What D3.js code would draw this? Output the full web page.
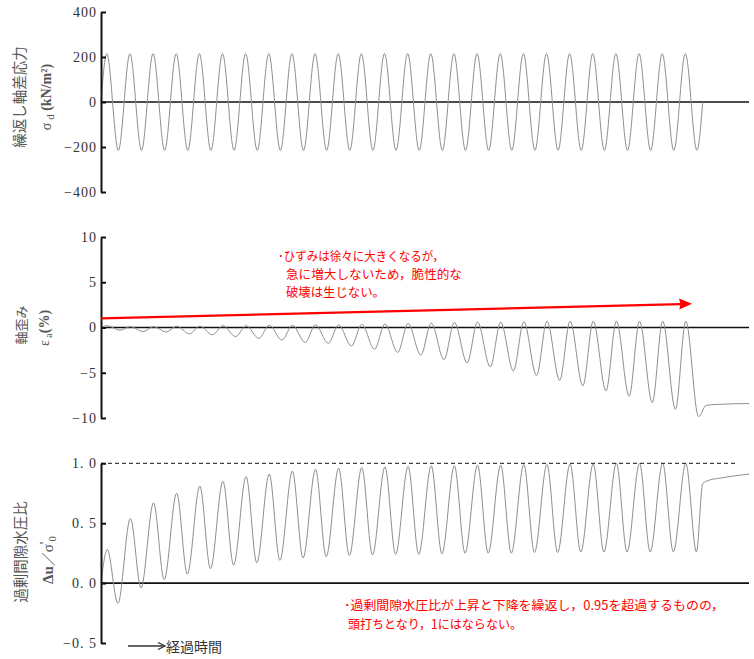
<!DOCTYPE html>
<html><head><meta charset="utf-8">
<script src="https://cdn.jsdelivr.net/npm/d3@7"></script>
<style>body{margin:0;background:#fff}svg{display:block}</style>
</head><body><svg id="c" width="754" height="659"></svg>
<script>
// ---------- data ----------
const cycleIndex = [0,1,2,3,4,5,6,7,8,9,10,11,12,13,14,15,16,17,18,19,20,21,22,23,24,25];
// repeated deviator stress σd (kN/m²): per-cycle peak / trough
const sigmaPeaks   = [215,215,215,215,215,215,215,215,215,215,215,215,215,215,215,215,215,215,215,215,215,215,215,215,215,215];
const sigmaTroughs = [-215,-215,-215,-215,-215,-215,-215,-215,-215,-215,-215,-215,-215,-215,-215,-215,-215,-215,-215,-215,-215,-215,-215,-215,-215,-215];
const sigmaStart = [0, 0];
const sigmaEnd = [26, 0];
// axial strain εa (%)
const strainPeaks   = [0.2,0.1,0.1,0.15,0.15,0.2,0.2,0.25,0.25,0.3,0.3,0.35,0.4,0.45,0.5,0.55,0.6,0.6,0.65,0.7,0.7,0.7,0.7,0.7,0.7,0.7];
const strainTroughs = [-0.3,-0.45,-0.5,-0.7,-0.8,-1.0,-1.2,-1.4,-1.65,-1.75,-2.05,-2.4,-2.75,-3.05,-3.55,-3.9,-4.35,-4.8,-5.3,-5.85,-6.45,-7.0,-7.6,-8.3,-9.05,-9.85];
const strainTailT = [26.15, 26.6, 28];
const strainTailV = [-8.6, -8.5, -8.4];
// excess pore water pressure ratio Δu/σ'0
const ruPeaks   = [0.28,0.54,0.67,0.75,0.81,0.85,0.89,0.91,0.935,0.95,0.96,0.965,0.97,0.975,0.98,0.98,0.985,0.985,0.99,0.99,0.995,0.995,1.0,1.0,1.0,1.0];
const ruTroughs = [-0.17,-0.04,0.03,0.075,0.12,0.15,0.17,0.19,0.21,0.22,0.23,0.235,0.24,0.24,0.245,0.25,0.25,0.25,0.255,0.255,0.26,0.26,0.26,0.26,0.26,0.26];
const ruTailT = [26.0, 26.3, 26.7, 28];
const ruTailV = [0.83, 0.86, 0.875, 0.91];
// phase of extremes within each cycle
const sigmaPhase = [0.25, 0.75];
const strainPhase = [0.27, 0.82];
const ruPhase = [0.27, 0.73];
// axes
const timeDomain = [0, 28];
const sigmaTicks = [-400,-200,0,200,400];
const strainTicks = [-10,-5,0,5,10];
const ruTicks = [-0.5,0,0.5,1.0];
const ruTickLabels = ["−0. 5","0. 0","0. 5","1. 0"];
// annotation arrow (in strain-panel data units)
const arrowFrom = [0, 1.0];
const arrowTo = [25.54, 2.62];
const noteStrain = ["･ひずみは徐々に大きくなるが，","急に増大しないため，脆性的な","破壊は生じない。"];
const noteRu = ["･過剰間隙水圧比が上昇と下降を繰返し，0.95を超過するものの，","頭打ちとなり，1にはならない。"];

// ---------- drawing ----------
const svg = d3.select("#c");
const x = d3.scaleLinear().domain(timeDomain).range([101, 749]);
const ySig = d3.scaleLinear().domain([-400,400]).range([192,12]);
const yStr = d3.scaleLinear().domain([-10,10]).range([418,237]);
const yRu = d3.scaleLinear().domain([-0.5,1.0]).range([643,463.3]);

function series(start, peaks, troughs, phase, tailT, tailV){
  const p = [start];
  cycleIndex.forEach(i => { p.push([i+phase[0], peaks[i]]); p.push([i+phase[1], troughs[i]]); });
  tailT.forEach((t,k) => p.push([t, tailV[k]]));
  return p;
}
const serif = "'Liberation Serif','DejaVu Serif',serif";
const jp = "'Noto Sans CJK JP','Noto Sans',sans-serif";

function panel(y, ticks, labels, pts){
  // zero line
  svg.append("line").attr("x1", x(0)).attr("x2", x(28)).attr("y1", y(0)).attr("y2", y(0))
     .attr("stroke","#111").attr("stroke-width",1.6);
  // data curve
  const line = d3.line().x(d=>x(d[0])).y(d=>y(d[1])).curve(d3.curveMonotoneX);
  svg.append("path").attr("d", line(pts)).attr("fill","none").attr("stroke","#8f8f8f").attr("stroke-width",1);
  // axis line + inward ticks
  const ga = svg.append("g").attr("transform",`translate(${x(0)},0)`)
    .call(d3.axisRight(y).tickValues(ticks).tickSize(5).tickSizeOuter(0).tickFormat(""));
  ga.select(".domain").attr("stroke","#111").attr("stroke-width",2);
  ga.selectAll(".tick line").attr("stroke","#111").attr("stroke-width",2);
  // labels
  const gl = svg.append("g").attr("transform",`translate(${x(0)-4},0)`)
    .call(d3.axisLeft(y).tickValues(ticks).tickSize(0).tickPadding(0)
      .tickFormat((d,i)=> labels ? labels[i] : (d<0 ? "−"+Math.abs(d) : String(d))));
  gl.select(".domain").remove();
  gl.selectAll("text").attr("font-family",serif).attr("font-size",14).attr("letter-spacing","1px").attr("fill","#333");
}

panel(ySig, sigmaTicks, null, series(sigmaStart, sigmaPeaks, sigmaTroughs, sigmaPhase, [sigmaEnd[0]], [sigmaEnd[1]]));
panel(yStr, strainTicks, null, series([0,0], strainPeaks, strainTroughs, strainPhase, strainTailT, strainTailV));
panel(yRu, ruTicks, ruTickLabels, series([0,0], ruPeaks, ruTroughs, ruPhase, ruTailT, ruTailV));

// dashed line at 1.0
svg.append("line").attr("x1", x(0)).attr("x2", 738).attr("y1", yRu(1)).attr("y2", yRu(1))
  .attr("stroke","#111").attr("stroke-width",1).attr("stroke-dasharray","4,3");

// red arrow
{
  const x1 = x(arrowFrom[0]), y1 = yStr(arrowFrom[1]), x2 = x(arrowTo[0]), y2 = yStr(arrowTo[1]);
  const a = Math.atan2(y2-y1, x2-x1), L = 13, W = 5.5;
  const bx = x2 - L*Math.cos(a), by = y2 - L*Math.sin(a);
  svg.append("line").attr("x1",x1).attr("y1",y1).attr("x2",bx+2*Math.cos(a)).attr("y2",by+2*Math.sin(a))
    .attr("stroke","#ff0000").attr("stroke-width",2.2);
  svg.append("path").attr("d",`M${x2},${y2}L${bx - W*Math.sin(a)},${by + W*Math.cos(a)}L${bx+1.5*Math.cos(a)},${by+1.5*Math.sin(a)}L${bx + W*Math.sin(a)},${by - W*Math.cos(a)}Z`)
    .attr("fill","#ff0000");
}

// red notes
function note(lines, xs, ys, lens){
  lines.forEach((s,i)=>{
    svg.append("text").attr("x",xs[i]).attr("y",ys[i]).attr("font-family",jp).attr("font-size",12.5)
      .attr("fill","#ff0000").attr("textLength",lens[i]).attr("lengthAdjust","spacingAndGlyphs").text(s);
  });
}
note(noteStrain, [278,286,286], [260.7,279.4,297], [166,176,99]);
note(noteRu, [344,348], [610,629], [380,174]);

// y titles (rotated)
function vtitle(cx, cy, build){
  const t = svg.append("text").attr("transform",`translate(${cx},${cy}) rotate(-90)`).attr("text-anchor","middle").attr("fill","#555");
  build(t);
}
vtitle(24.5, 97, t=>t.attr("font-family",jp).attr("font-size",14.5).text("繰返し軸差応力"));
vtitle(51, 97, t=>{
  t.attr("font-family",serif).attr("font-size",14);
  t.append("tspan").text("σ");
  t.append("tspan").attr("font-size",11).attr("dy",3).text(" d");
  t.append("tspan").attr("dy",-3).attr("font-weight","bold").text(" (kN/m²)");
});
vtitle(26, 325, t=>t.attr("font-family",jp).attr("font-size",13).text("軸歪み"));
vtitle(48.5, 328, t=>{
  t.attr("font-family",serif).attr("font-size",14);
  t.append("tspan").text("ε");
  t.append("tspan").attr("font-size",10).attr("dy",3).text(" a");
  t.append("tspan").attr("dy",-3).attr("font-weight","bold").text("(%)");
});
vtitle(25.5, 552, t=>t.attr("font-family",jp).attr("font-size",14.5).text("過剰間隙水圧比"));
vtitle(53, 560, t=>{
  t.attr("font-family",serif).attr("font-size",15);
  t.append("tspan").attr("font-weight","bold").text("Δu");
  t.append("tspan").attr("font-family",jp).attr("font-size",14).text("／");
  t.append("tspan").text("σ");
  t.append("tspan").attr("dy",-3).text("'");
  t.append("tspan").attr("font-size",11).attr("dy",6).text("0");
});

// elapsed-time arrow
svg.append("line").attr("x1",128).attr("x2",164.5).attr("y1",646).attr("y2",646).attr("stroke","#333").attr("stroke-width",1.3);
svg.append("path").attr("d","M158,642.5L165,646L158,649.5").attr("fill","none").attr("stroke","#333").attr("stroke-width",1.3);
svg.append("text").attr("x",166).attr("y",652).attr("font-family",jp).attr("font-size",14).attr("fill","#333").text("経過時間");
</script></body></html>
